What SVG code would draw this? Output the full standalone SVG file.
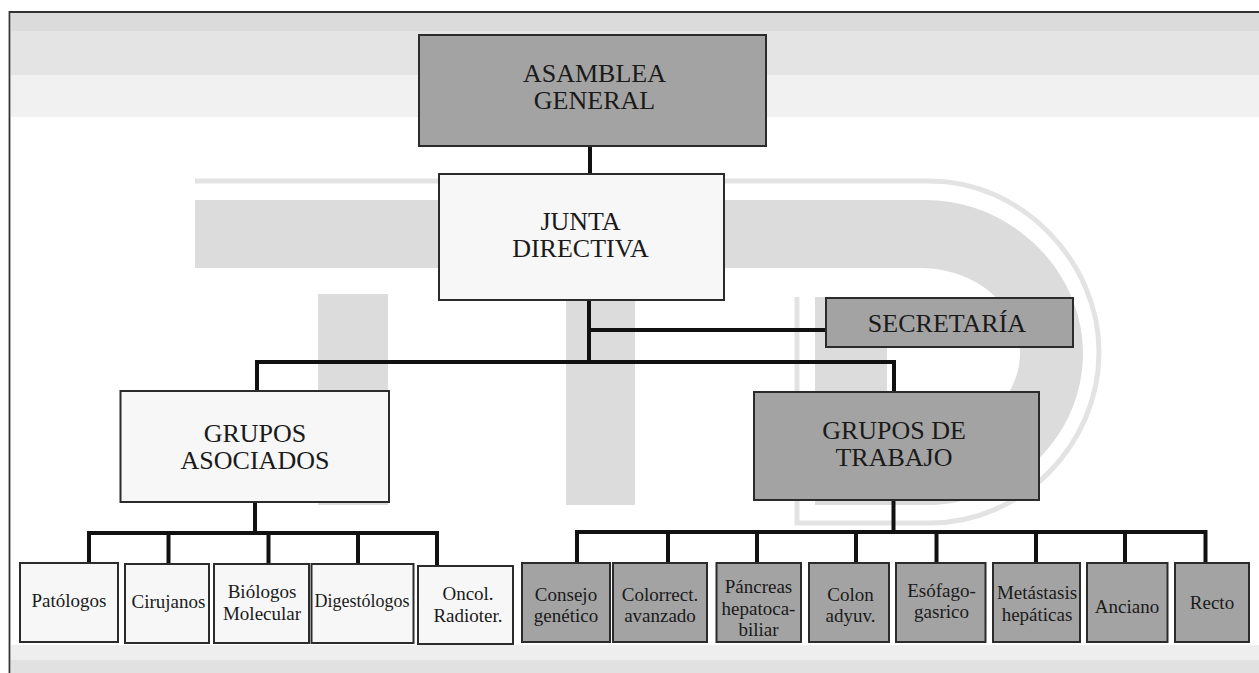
<svg xmlns="http://www.w3.org/2000/svg" width="1259" height="673" viewBox="0 0 1259 673">
<style>
  .dk { fill: #a3a3a3; stroke: #2b2b2b; stroke-width: 2; }
  .lt { fill: #f7f7f7; stroke: #2b2b2b; stroke-width: 2; }
  .big { font-family: "Liberation Serif", "Times New Roman", serif; font-size: 26px; fill: #1a1a1a; text-anchor: middle; }
  .sm { font-family: "Liberation Serif", "Times New Roman", serif; font-size: 19px; fill: #1a1a1a; text-anchor: middle; }
  .wm { fill: #dcdcdc; }
  .cn { fill: none; stroke: #111; stroke-width: 4; stroke-linejoin: miter; stroke-linecap: square; }
</style>
<rect x="0" y="0" width="1259" height="673" fill="#ffffff"/>
<g id="background">
  <rect x="11" y="13" width="1248" height="18" fill="#dbdbdb"/>
  <rect x="11" y="31" width="1248" height="44" fill="#e4e4e4"/>
  <rect x="11" y="75" width="1248" height="42" fill="#f1f1f1"/>
  <rect x="11" y="645" width="1248" height="15" fill="#eeeeee"/>
  <rect x="11" y="660" width="1248" height="13" fill="#e1e1e1"/>
  <path d="M195,181 H930 C1022,181 1099,262 1099,352 C1099,445 1022,523 930,523 H797 V297" fill="none" stroke="#e3e3e3" stroke-width="5"/>
  <path class="wm" fill-rule="evenodd" d="M195,200 H925 C1013,200 1083,272 1083,353 C1083,437 1013,505 925,505 H815 V440 H920 C975,440 1020,400 1020,353 C1020,305 975,268 920,268 H195 Z"/>
  <rect class="wm" x="815" y="297" width="72" height="208"/>
  <rect class="wm" x="318" y="294" width="70" height="211"/>
  <rect class="wm" x="566" y="293" width="69" height="212"/>
  <path d="M9.5,673 V12 H1259" fill="none" stroke="#333" stroke-width="1.8"/>
</g>
<g id="connectors">
  <path class="cn" d="M590,146 V174"/>
  <path class="cn" d="M589,300 V362"/>
  <path class="cn" d="M589,330 H826" stroke-width="3.5"/>
  <path class="cn" d="M257,391 V362 H894 V392"/>
  <path class="cn" d="M255,502 V533"/>
  <path class="cn" d="M89,563 V533 H437 V563"/>
  <path class="cn" d="M168.5,533 V563"/>
  <path class="cn" d="M268.5,533 V563"/>
  <path class="cn" d="M358,533 V563"/>
  <path class="cn" d="M893.5,500 V532"/>
  <path class="cn" d="M577,563 V532 H1205.5 V563"/>
  <path class="cn" d="M668,532 V563"/>
  <path class="cn" d="M757,532 V563"/>
  <path class="cn" d="M856,532 V563"/>
  <path class="cn" d="M936.5,532 V563"/>
  <path class="cn" d="M1036,532 V563"/>
  <path class="cn" d="M1125,532 V563"/>
</g>
<g id="asamblea">
  <rect class="dk" x="419" y="35" width="347" height="111"/>
  <text class="big" x="594.5" y="82">ASAMBLEA</text>
  <text class="big" x="594.5" y="108.5">GENERAL</text>
</g>
<g id="junta">
  <rect class="lt" x="439" y="174" width="285" height="126"/>
  <text class="big" x="580.5" y="230">JUNTA</text>
  <text class="big" x="580.5" y="256.5">DIRECTIVA</text>
</g>
<g id="secretaria">
  <rect class="dk" x="826" y="298" width="247" height="49"/>
  <text class="big" x="947" y="331.5">SECRETARÍA</text>
</g>
<g id="grupos-asociados">
  <rect class="lt" x="120.5" y="391" width="268.5" height="111"/>
  <text class="big" x="255" y="442">GRUPOS</text>
  <text class="big" x="255" y="468.5">ASOCIADOS</text>
</g>
<g id="grupos-trabajo">
  <rect class="dk" x="754" y="392" width="285" height="108"/>
  <text class="big" x="894" y="438.5">GRUPOS DE</text>
  <text class="big" x="894" y="465.5">TRABAJO</text>
</g>
<g id="patologos">
  <rect class="lt" x="20" y="563" width="98" height="79"/>
  <text class="sm" x="69" y="606.5">Patólogos</text>
</g>
<g id="cirujanos">
  <rect class="lt" x="125" y="564" width="84" height="79"/>
  <text class="sm" x="168.5" y="608">Cirujanos</text>
</g>
<g id="biologos">
  <rect class="lt" x="214" y="564" width="95" height="79"/>
  <text class="sm" x="262" y="598">Biólogos</text>
  <text class="sm" x="262" y="620">Molecular</text>
</g>
<g id="digestologos">
  <rect class="lt" x="311.5" y="564" width="102" height="79"/>
  <text class="sm" x="362" y="607" textLength="95" lengthAdjust="spacingAndGlyphs">Digestólogos</text>
</g>
<g id="oncol">
  <rect class="lt" x="418" y="566" width="95" height="78"/>
  <text class="sm" x="468" y="600">Oncol.</text>
  <text class="sm" x="468" y="622">Radioter.</text>
</g>
<g id="consejo">
  <rect class="dk" x="522" y="563" width="88" height="79"/>
  <text class="sm" x="566" y="601">Consejo</text>
  <text class="sm" x="566" y="622">genético</text>
</g>
<g id="colorrect">
  <rect class="dk" x="613" y="563" width="94" height="79"/>
  <text class="sm" x="660" y="601">Colorrect.</text>
  <text class="sm" x="660" y="622">avanzado</text>
</g>
<g id="pancreas">
  <rect class="dk" x="716.5" y="563" width="84.5" height="79"/>
  <text class="sm" x="758.5" y="593">Páncreas</text>
  <text class="sm" x="758.5" y="614.5">hepatoca-</text>
  <text class="sm" x="758.5" y="636">biliar</text>
</g>
<g id="colon">
  <rect class="dk" x="809" y="563" width="80" height="79"/>
  <text class="sm" x="850.5" y="601">Colon</text>
  <text class="sm" x="850.5" y="622">adyuv.</text>
</g>
<g id="esofago">
  <rect class="dk" x="896" y="563" width="89.5" height="79"/>
  <text class="sm" x="941.5" y="597">Esófago-</text>
  <text class="sm" x="941.5" y="618">gasrico</text>
</g>
<g id="metastasis">
  <rect class="dk" x="993" y="563" width="87" height="79"/>
  <text class="sm" x="1037" y="599">Metástasis</text>
  <text class="sm" x="1037" y="620.5">hepáticas</text>
</g>
<g id="anciano">
  <rect class="dk" x="1087" y="563" width="80.5" height="79"/>
  <text class="sm" x="1127" y="613">Anciano</text>
</g>
<g id="recto">
  <rect class="dk" x="1175" y="563" width="74" height="79"/>
  <text class="sm" x="1212" y="609">Recto</text>
</g>
</svg>
